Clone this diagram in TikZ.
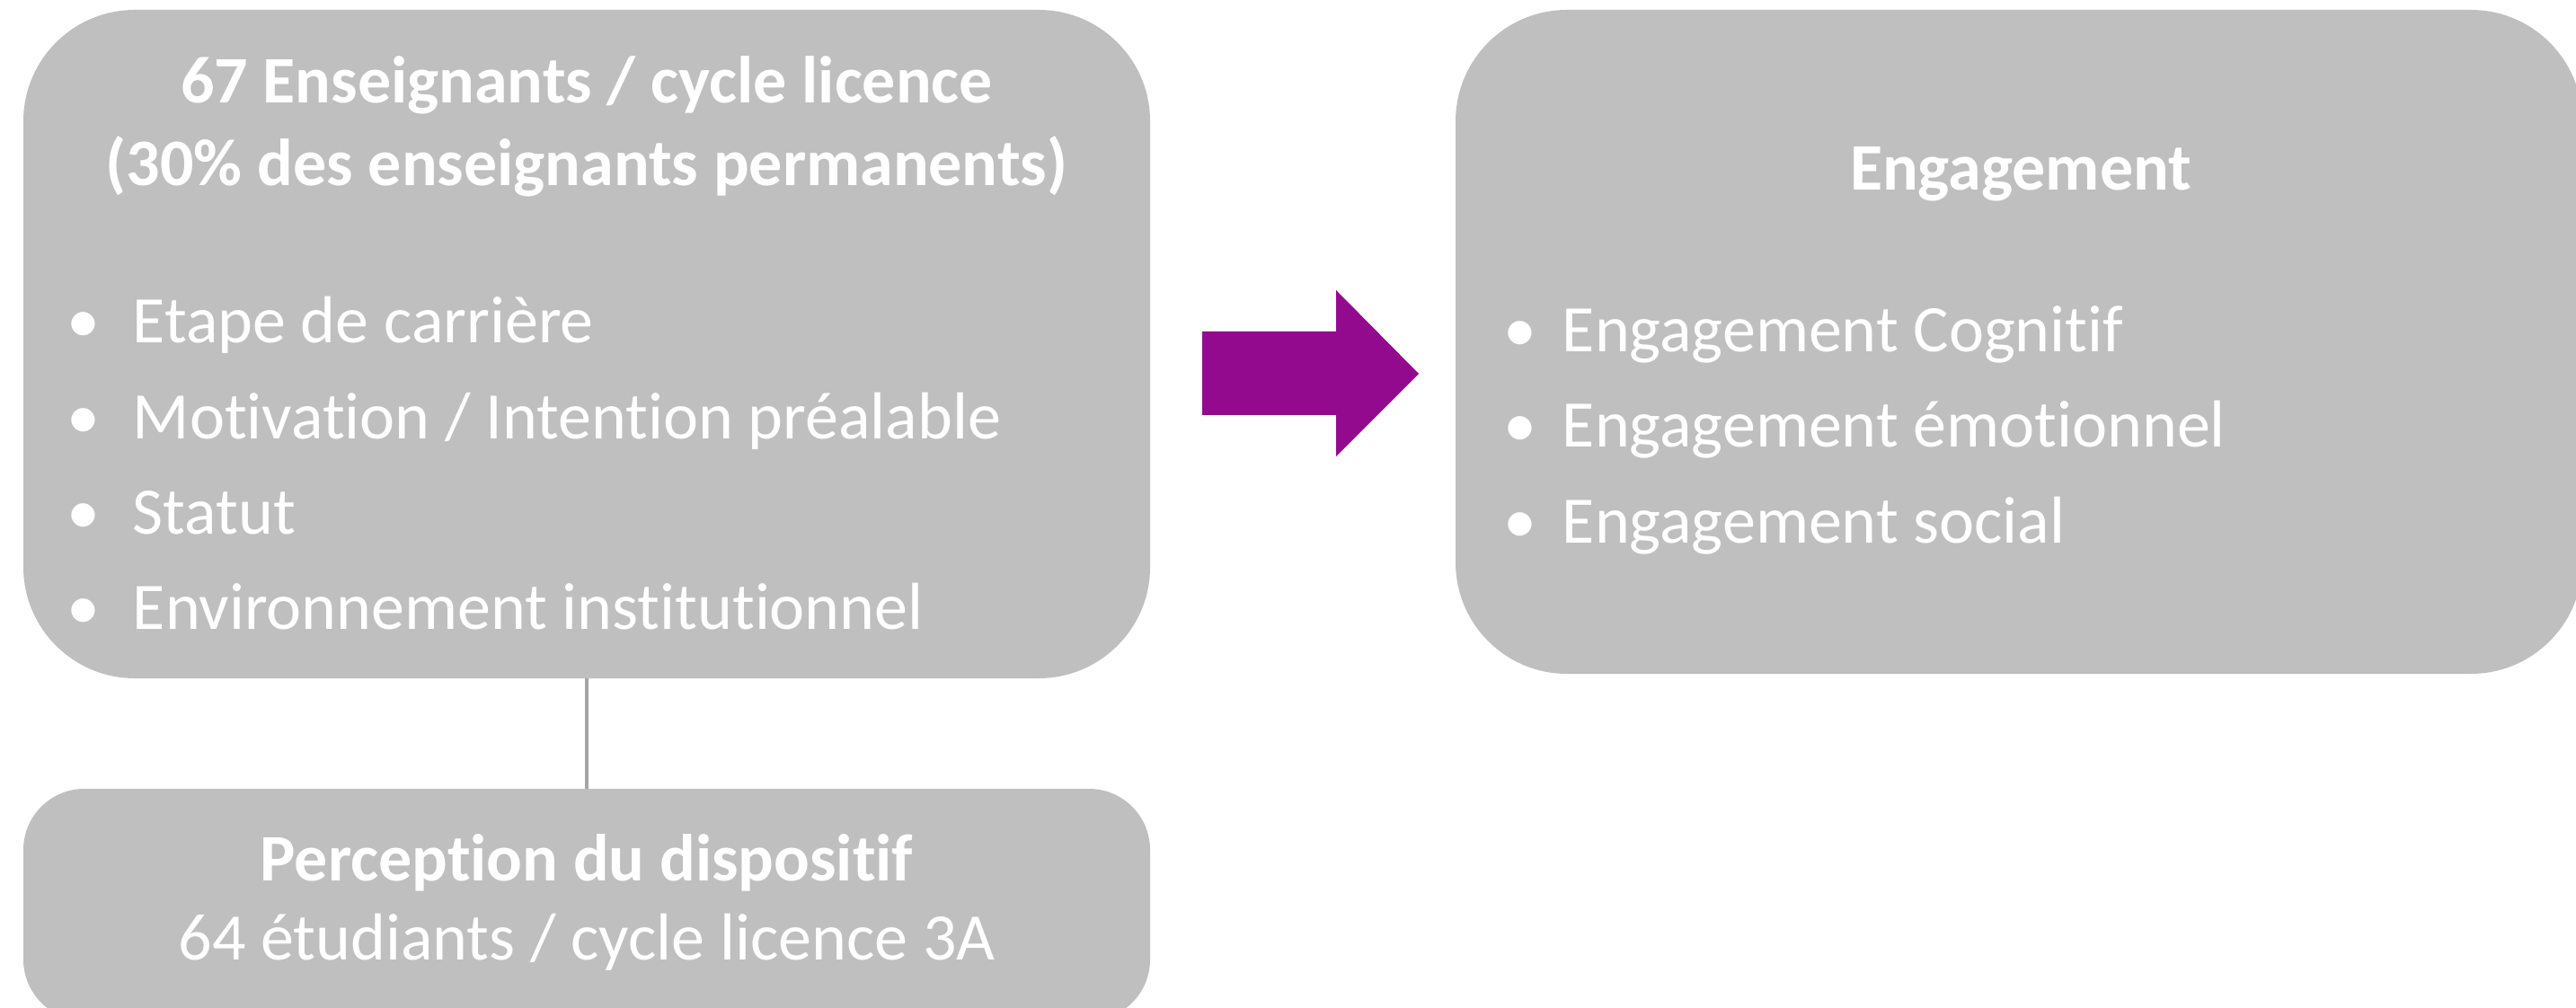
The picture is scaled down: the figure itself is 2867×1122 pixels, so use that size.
\documentclass[tikz,border=0pt]{standalone}
\usepackage{fontspec}
\setmainfont{Carlito}[Ligatures=NoCommon]
\usetikzlibrary{backgrounds,calc}
\definecolor{boxgray}{HTML}{BFBFBF}
\definecolor{arrowpurple}{HTML}{940A8E}
\definecolor{linegray}{HTML}{A5A5A5}
\newcommand\bulL{\makebox[18.5pt][l]{•}}
\newcommand\bulR{\makebox[16.5pt][l]{•}}
\tikzset{
  boxnode/.style={draw=none, fill=boxgray, inner sep=0pt, outer sep=0pt},
  txt/.style={text=white, inner sep=0pt, outer sep=0pt, font=\fontsize{18.5pt}{22pt}\selectfont},
  boldtxt/.style={txt, font=\fontsize{18.5pt}{22pt}\selectfont\bfseries},
}
\begin{document}
\begin{tikzpicture}[x=0.25pt,y=-0.25pt]
\useasboundingbox (0,0) rectangle (2867,1122);
\fill[white] (0,0) rectangle (2867,1122);
% boxes
\node[boxnode, rounded corners=31pt, minimum width=313.5pt, minimum height=186pt] (L) at (653,383) {};
\node[boxnode, rounded corners=31pt, minimum width=313.5pt, minimum height=184.75pt] (R) at (2247,380.5) {};
\node[boxnode, rounded corners=17pt, minimum width=313.5pt, minimum height=64.5pt] (B) at (653,1007) {};
% shadows
\begin{scope}[on background layer]
\foreach \n/\r in {L/31pt,R/31pt,B/17pt}{
  \foreach \i in {1,...,8}{
    \fill[black, opacity=0.045, rounded corners=\r] ([shift={(3-\i,8-\i)}]\n.north west) rectangle ([shift={(3+\i,8+\i)}]\n.south east);
  }
}
\end{scope}
% connector
\draw[linegray, line width=1pt] (L.south) -- (B.north);
% arrow
\coordinate (a1) at (1338,369);
\fill[arrowpurple] (a1) -- (1487,369) -- (1487,323) -- (1579,416) -- (1487,508) -- (1487,462) -- (1338,462) -- cycle;
% left box text
\node[boldtxt, anchor=base] (t1) at (653,115) {67 Enseignants / cycle licence};
\node[boldtxt, anchor=base] (t2) at (653,207) {(30\% des enseignants permanents)};
\node[txt, anchor=base west] (l1) at (74,382) {\bulL Etape de carrière};
\node[txt, anchor=base west] (l2) at (74,488) {\bulL Motivation / Intention préalable};
\node[txt, anchor=base west] (l3) at (74,594) {\bulL Statut};
\node[txt, anchor=base west] (l4) at (74,700) {\bulL Environnement institutionnel};
% right box text
\node[boldtxt, anchor=base] (e0) at (2249,212) {Engagement};
\node[txt, anchor=base west] (e1) at (1673,392) {\bulR Engagement Cognitif};
\node[txt, anchor=base west] (e2) at (1673,498) {\bulR Engagement émotionnel};
\node[txt, anchor=base west] (e3) at (1673,604) {\bulR Engagement social};
% bottom box text
\node[boldtxt, anchor=base] (b1) at (653,980) {Perception du dispositif};
\node[txt, anchor=base] (b2) at (653,1068) {64 étudiants / cycle licence 3A};
\end{tikzpicture}
\end{document}
